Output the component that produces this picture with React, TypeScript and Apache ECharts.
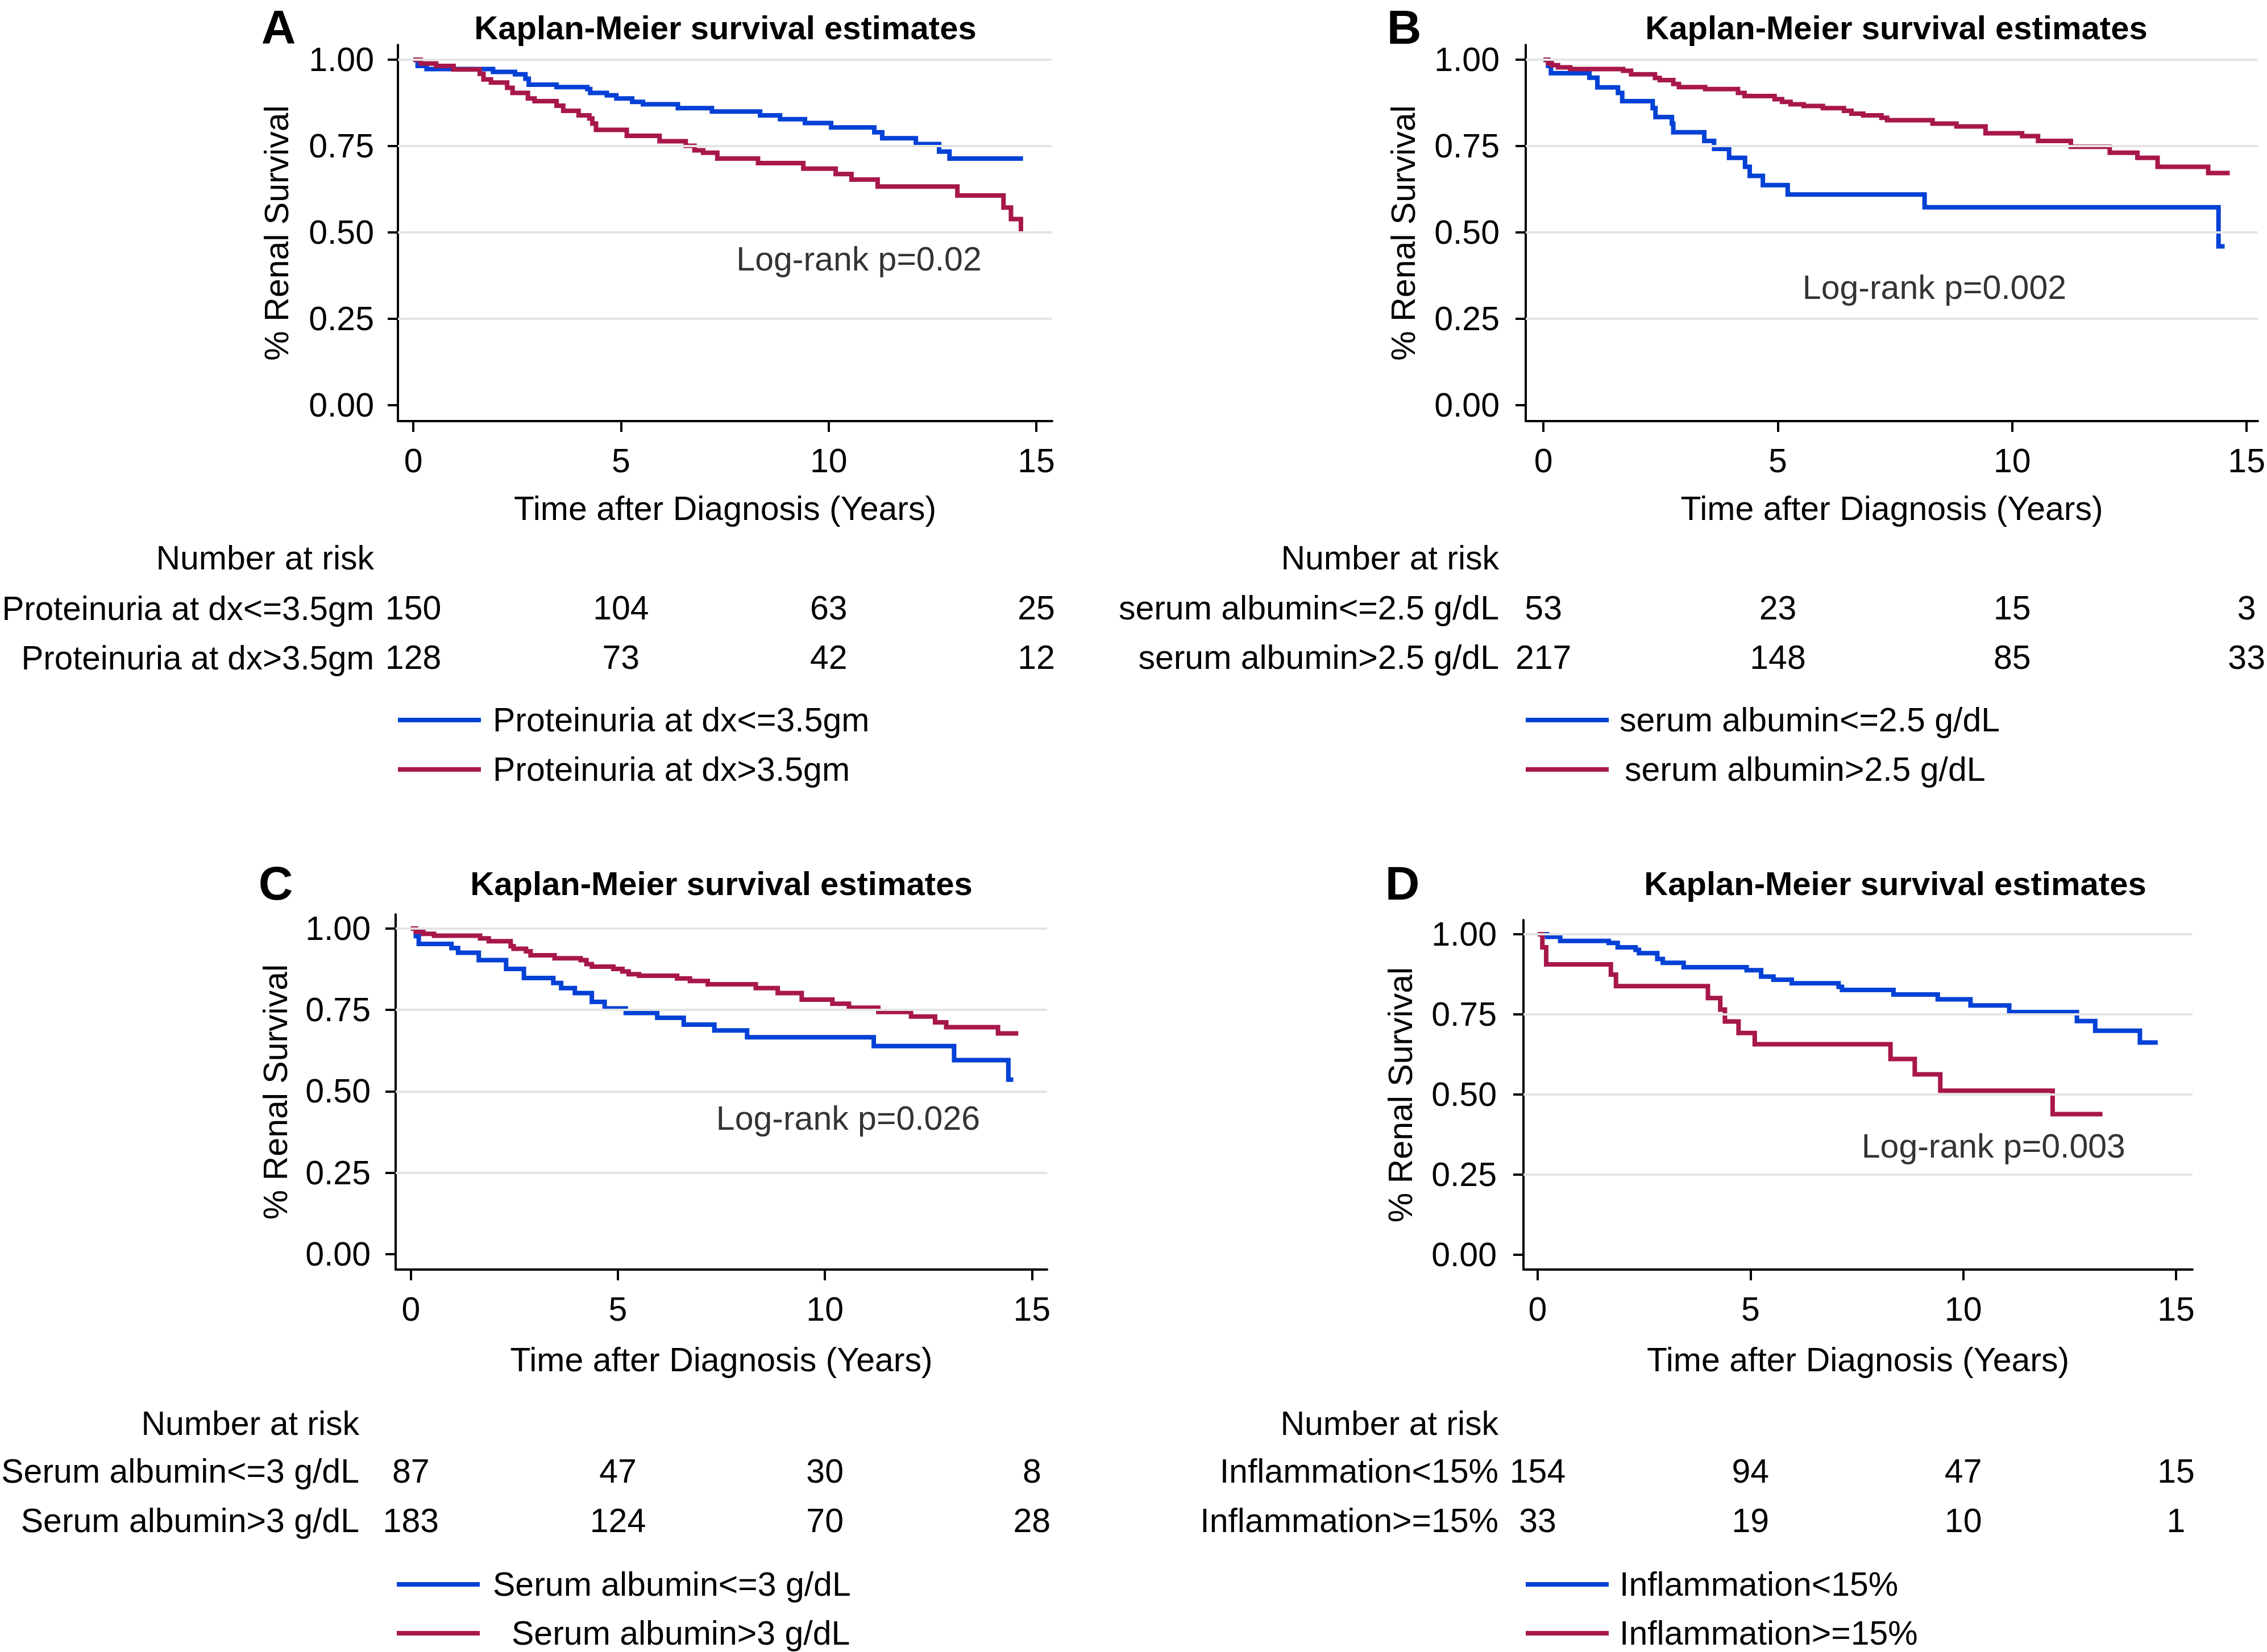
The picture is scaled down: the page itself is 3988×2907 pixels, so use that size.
import React, { useEffect, useRef } from "react";
import * as echarts from "echarts";

const W = 3988;
const H = 2907;
const FONT = "'Liberation Sans', Arial, Helvetica, sans-serif";
const BLUE = "#0341d6";
const RED = "#a8174b";
const GRID_GRAY = "#e4e4e4";
const FS = 59;

// ---------- shared axis values ----------
const xTickValues = [0, 5, 10, 15];
const yTickValues = [0, 0.25, 0.5, 0.75, 1];
const yGridValues = [0.25, 0.5, 0.75, 1];
const chartTitle = "Kaplan-Meier survival estimates";
const xAxisTitle = "Time after Diagnosis (Years)";
const yAxisTitle = "% Renal Survival";
const riskHeader = "Number at risk";

// ---------- Panel A ----------
const aGroups = ["Proteinuria at dx<=3.5gm", "Proteinuria at dx>3.5gm"];
const aRisk1 = [150, 104, 63, 25];
const aRisk2 = [128, 73, 42, 12];
const aLogRank = "Log-rank p=0.02";
const aBlueTime = [0, 0.105, 0.32, 1.92, 2.45, 2.7, 2.78, 3.45, 4.19, 4.26, 4.66, 4.89, 5.27, 5.53, 6.37, 7.19, 8.35, 8.83, 9.43, 10.06, 11.1, 11.29, 12.1, 12.66, 12.91, 14.68];
const aBlueSurv = [1, 0.982, 0.973, 0.965, 0.958, 0.945, 0.928, 0.921, 0.915, 0.904, 0.897, 0.888, 0.878, 0.871, 0.86, 0.85, 0.839, 0.828, 0.817, 0.804, 0.79, 0.773, 0.756, 0.734, 0.714, 0.714];
const aRedTime = [0, 0.18, 0.55, 0.97, 1.6, 1.69, 1.87, 2.26, 2.39, 2.76, 2.92, 3.45, 3.61, 3.98, 4.24, 4.31, 4.4, 5.14, 5.93, 6.56, 6.77, 6.98, 7.32, 8.3, 9.39, 10.17, 10.55, 11.18, 13.1, 14.21, 14.39, 14.63];
const aRedSurv = [1, 0.989, 0.982, 0.972, 0.959, 0.943, 0.934, 0.919, 0.904, 0.888, 0.88, 0.867, 0.852, 0.839, 0.83, 0.815, 0.797, 0.78, 0.764, 0.751, 0.738, 0.731, 0.714, 0.701, 0.685, 0.669, 0.653, 0.633, 0.607, 0.572, 0.539, 0.497];

// ---------- Panel B ----------
const bGroups = ["serum albumin<=2.5 g/dL", "serum albumin>2.5 g/dL"];
const bRisk1 = [53, 23, 15, 3];
const bRisk2 = [217, 148, 85, 33];
const bLogRank = "Log-rank p=0.002";
const bBlueTime = [0, 0.1, 0.16, 0.98, 1.15, 1.59, 1.68, 2.33, 2.39, 2.74, 2.77, 3.43, 3.64, 3.96, 4.3, 4.4, 4.68, 5.21, 8.13, 14.4, 14.53];
const bBlueSurv = [1, 0.982, 0.961, 0.948, 0.92, 0.904, 0.88, 0.86, 0.834, 0.815, 0.79, 0.765, 0.742, 0.716, 0.69, 0.664, 0.637, 0.61, 0.573, 0.46, 0.46];
const bRedTime = [0, 0.1, 0.18, 0.31, 0.57, 1.7, 1.87, 2.38, 2.48, 2.77, 2.89, 3.45, 4.15, 4.29, 4.93, 5.09, 5.27, 5.55, 5.96, 6.41, 6.57, 6.82, 7.21, 7.33, 8.3, 8.81, 9.43, 10.21, 10.55, 11.25, 12.08, 12.67, 13.1, 14.18, 14.64];
const bRedSurv = [1, 0.99, 0.984, 0.978, 0.973, 0.968, 0.958, 0.947, 0.941, 0.93, 0.921, 0.915, 0.904, 0.895, 0.886, 0.878, 0.871, 0.866, 0.86, 0.852, 0.844, 0.839, 0.832, 0.825, 0.815, 0.807, 0.787, 0.779, 0.765, 0.748, 0.731, 0.716, 0.69, 0.672, 0.672];

// ---------- Panel C ----------
const cGroups = ["Serum albumin<=3 g/dL", "Serum albumin>3 g/dL"];
const cRisk1 = [87, 47, 30, 8];
const cRisk2 = [183, 124, 70, 28];
const cLogRank = "Log-rank p=0.026";
const cBlueTime = [0, 0.12, 0.19, 0.98, 1.14, 1.64, 2.3, 2.73, 3.44, 3.63, 3.96, 4.37, 4.68, 5.19, 5.95, 6.59, 7.33, 8.12, 11.18, 13.12, 14.43, 14.55];
const cBlueSurv = [1, 0.977, 0.953, 0.94, 0.926, 0.903, 0.876, 0.848, 0.833, 0.817, 0.802, 0.775, 0.755, 0.741, 0.726, 0.705, 0.687, 0.666, 0.639, 0.596, 0.536, 0.536];
const cRedTime = [0, 0.12, 0.3, 0.56, 1.67, 1.88, 2.41, 2.48, 2.78, 2.89, 3.47, 4.1, 4.24, 4.37, 4.89, 5.11, 5.26, 5.51, 6.43, 6.74, 7.17, 8.33, 8.86, 9.44, 10.18, 10.58, 11.29, 12.08, 12.66, 12.93, 14.18, 14.67];
const cRedSurv = [1, 0.99, 0.984, 0.978, 0.97, 0.961, 0.946, 0.938, 0.93, 0.918, 0.909, 0.903, 0.891, 0.883, 0.876, 0.868, 0.86, 0.855, 0.847, 0.839, 0.829, 0.817, 0.802, 0.782, 0.769, 0.757, 0.744, 0.73, 0.712, 0.697, 0.678, 0.678];

// ---------- Panel D ----------
const dGroups = ["Inflammation<15%", "Inflammation>=15%"];
const dRisk1 = [154, 94, 47, 15];
const dRisk2 = [33, 19, 10, 1];
const dLogRank = "Log-rank p=0.003";
const dBlueTime = [0, 0.22, 0.53, 1.67, 1.88, 2.3, 2.38, 2.81, 2.94, 3.43, 4.91, 5.25, 5.54, 5.97, 7.07, 7.15, 8.36, 9.4, 10.17, 11.08, 12.67, 13.1, 14.15, 14.57];
const dBlueSurv = [1, 0.992, 0.979, 0.973, 0.959, 0.951, 0.941, 0.923, 0.911, 0.897, 0.888, 0.868, 0.858, 0.847, 0.836, 0.826, 0.812, 0.797, 0.778, 0.757, 0.729, 0.699, 0.662, 0.662];
const dRedTime = [0, 0.11, 0.2, 1.72, 1.84, 4.0, 4.29, 4.4, 4.72, 5.1, 8.29, 8.86, 9.46, 12.1, 13.27];
const dRedSurv = [1, 0.959, 0.906, 0.874, 0.838, 0.801, 0.765, 0.728, 0.692, 0.657, 0.611, 0.563, 0.512, 0.439, 0.439];

// ---------- layout (pixels, fonts) ----------
const layouts = [
  {
    letter: "A", left: 700, top: 79, width: 1151, height: 662,
    xMin: -0.37, xMax: 15.383, yMin: -0.046, yMax: 1.043,
    letterX: 490, letterY: 48, titleX: 1276, titleY: 48,
    yNameGap: 213, yLabelMargin: 42, xNameGap: 154, xLabelMargin: 70,
    riskHeaderY: 982, riskRight: 658, rowFont: 58.3, rowOffsets: [329, 416],
    legendX: 700, legendTextX: [867, 867], legendY: [1267, 1354],
    logRankAt: [10.73, 0.423],
  },
  {
    letter: "B", left: 2684, top: 79, width: 1302, height: 662,
    xMin: -0.378, xMax: 15.24, yMin: -0.046, yMax: 1.043,
    letterX: 2470, letterY: 48, titleX: 3336, titleY: 48,
    yNameGap: 215, yLabelMargin: 46, xNameGap: 154, xLabelMargin: 70,
    riskHeaderY: 982, riskRight: 2637, rowFont: FS, rowOffsets: [329, 416],
    legendX: 2684, legendTextX: [2849, 2858], legendY: [1267, 1354],
    logRankAt: [8.34, 0.34],
  },
  {
    letter: "C", left: 696, top: 1609, width: 1146, height: 625,
    xMin: -0.368, xMax: 15.366, yMin: -0.0471, yMax: 1.0436,
    letterX: 485, letterY: 1554, titleX: 1269, titleY: 1554,
    yNameGap: 211, yLabelMargin: 44, xNameGap: 159, xLabelMargin: 70,
    riskHeaderY: 2505, riskRight: 632, rowFont: FS, rowOffsets: [355, 442],
    legendX: 698, legendTextX: [867, 900], legendY: [2788, 2874],
    logRankAt: [10.56, 0.417],
  },
  {
    letter: "D", left: 2680, top: 1619, width: 1177, height: 615,
    xMin: -0.334, xMax: 15.387, yMin: -0.0461, yMax: 1.0443,
    letterX: 2467, letterY: 1554, titleX: 3334, titleY: 1554,
    yNameGap: 216, yLabelMargin: 47, xNameGap: 159, xLabelMargin: 70,
    riskHeaderY: 2505, riskRight: 2636, rowFont: FS, rowOffsets: [355, 442],
    legendX: 2684, legendTextX: [2849, 2849], legendY: [2788, 2874],
    logRankAt: [10.71, 0.339],
  },
];

const panels = [
  { groups: aGroups, risks: [aRisk1, aRisk2], logRank: aLogRank, blue: [aBlueTime, aBlueSurv], red: [aRedTime, aRedSurv] },
  { groups: bGroups, risks: [bRisk1, bRisk2], logRank: bLogRank, blue: [bBlueTime, bBlueSurv], red: [bRedTime, bRedSurv] },
  { groups: cGroups, risks: [cRisk1, cRisk2], logRank: cLogRank, blue: [cBlueTime, cBlueSurv], red: [cRedTime, cRedSurv] },
  { groups: dGroups, risks: [dRisk1, dRisk2], logRank: dLogRank, blue: [dBlueTime, dBlueSurv], red: [dRedTime, dRedSurv] },
];

const zip = (t: number[], s: number[]) => t.map((v, i) => [v, s[i]]);

function textEl(text: string, x: number, y: number, align: string, size: number, bold = false, lineHeight?: number) {
  return {
    type: "text",
    x,
    y,
    silent: true,
    style: {
      text,
      font: `${bold ? "bold " : ""}${size}px ${FONT}`,
      fill: "#000",
      align,
      verticalAlign: "middle",
      textAlign: align,
      textVerticalAlign: "middle",
      lineHeight: lineHeight ?? Math.round(size * 1.15),
    },
  };
}

function buildOption() {
  const grid: any[] = [];
  const xAxis: any[] = [];
  const yAxis: any[] = [];
  const series: any[] = [];
  const graphic: any[] = [];
  const colors = [BLUE, RED];

  panels.forEach((p, i) => {
    const L = layouts[i];
    grid.push({ left: L.left, top: L.top, width: L.width, height: L.height, containLabel: false });

    const mainX = xAxis.length;
    xAxis.push({
      type: "value",
      gridIndex: i,
      min: L.xMin,
      max: L.xMax,
      position: "bottom",
      axisLine: { show: true, onZero: false, lineStyle: { color: "#000", width: 4 } },
      axisTick: { show: true, customValues: xTickValues, length: 19, lineStyle: { color: "#000", width: 4 } },
      axisLabel: {
        show: true, customValues: xTickValues, margin: L.xLabelMargin, verticalAlign: "middle",
        fontSize: FS, fontFamily: FONT, color: "#000",
        formatter: (v: number) => String(Math.round(v)),
      },
      splitLine: { show: false },
      name: xAxisTitle,
      nameLocation: "middle",
      nameGap: L.xNameGap,
      nameTextStyle: { fontSize: FS, fontFamily: FONT, color: "#000", verticalAlign: "middle" },
    });

    p.risks.forEach((r, k) => {
      xAxis.push({
        type: "value",
        gridIndex: i,
        min: L.xMin,
        max: L.xMax,
        position: "bottom",
        offset: L.rowOffsets[k],
        axisLine: { show: false, onZero: false },
        axisTick: { show: false },
        splitLine: { show: false },
        axisLabel: {
          show: true, customValues: xTickValues, margin: 0, verticalAlign: "middle",
          fontSize: FS, fontFamily: FONT, color: "#000",
          formatter: (v: number) => {
            const idx = xTickValues.findIndex((t) => Math.abs(t - v) < 1e-6);
            return idx >= 0 ? String(r[idx]) : "";
          },
        },
      });
    });

    yAxis.push({
      type: "value",
      gridIndex: i,
      min: L.yMin,
      max: L.yMax,
      position: "left",
      axisLine: { show: true, onZero: false, lineStyle: { color: "#000", width: 4 } },
      axisTick: { show: true, customValues: yTickValues, length: 18, lineStyle: { color: "#000", width: 4 } },
      axisLabel: {
        show: true, customValues: yTickValues, margin: L.yLabelMargin,
        fontSize: FS, fontFamily: FONT, color: "#000",
        formatter: (v: number) => v.toFixed(2),
      },
      splitLine: { show: false },
      name: yAxisTitle,
      nameLocation: "middle",
      nameGap: L.yNameGap,
      nameRotate: 90,
      nameTextStyle: { fontSize: FS, fontFamily: FONT, color: "#000", verticalAlign: "middle" },
    });

    // gridlines
    series.push({
      type: "line",
      xAxisIndex: mainX,
      yAxisIndex: i,
      data: [[0, 1]],
      showSymbol: false,
      symbol: "none",
      lineStyle: { opacity: 0 },
      silent: true,
      z: 1,
      markLine: {
        silent: true,
        symbol: ["none", "none"],
        label: { show: false },
        lineStyle: { color: GRID_GRAY, width: 4, type: "solid" },
        data: yGridValues.map((v) => ({ yAxis: v })),
      },
    });

    [p.blue, p.red].forEach((curve, k) => {
      series.push({
        type: "line",
        name: p.groups[k],
        xAxisIndex: mainX,
        yAxisIndex: i,
        step: "end",
        data: zip(curve[0], curve[1]),
        symbol: "none",
        showSymbol: false,
        lineStyle: { color: colors[k], width: 8, cap: "butt", join: "miter" },
        z: 3 + k,
        silent: true,
      });
    });

    series.push({
      type: "scatter",
      xAxisIndex: mainX,
      yAxisIndex: i,
      data: [L.logRankAt],
      symbolSize: 0.01,
      itemStyle: { color: "#ffffff" },
      silent: true,
      z: 6,
      label: {
        show: true, position: "inside", formatter: p.logRank,
        fontSize: FS, fontFamily: FONT, color: "#000000",
        textBorderWidth: 0,
      },
    });

    // letters and titles
    graphic.push(textEl(L.letter, L.letterX, L.letterY, "center", 84, true, 66));
    graphic.push(textEl(chartTitle, L.titleX, L.titleY, "center", 58, true, 60));

    // number at risk labels
    const axisY = L.top + L.height;
    graphic.push(textEl(riskHeader, L.riskRight, L.riskHeaderY, "right", FS));
    p.groups.forEach((g, k) => {
      graphic.push(textEl(g, L.riskRight, axisY + L.rowOffsets[k], "right", L.rowFont));
    });

    // legend
    p.groups.forEach((g, k) => {
      graphic.push({
        type: "rect",
        silent: true,
        shape: { x: L.legendX, y: L.legendY[k] - 4, width: 146, height: 8 },
        style: { fill: colors[k] },
      });
      graphic.push(textEl(g, L.legendTextX[k], L.legendY[k], "left", FS));
    });
  });

  return {
    animation: false,
    backgroundColor: "#ffffff",
    grid,
    xAxis,
    yAxis,
    series,
    graphic,
  };
}

export default function App() {
  const ref = useRef<HTMLDivElement | null>(null);
  useEffect(() => {
    if (!ref.current) return;
    const chart = echarts.init(ref.current, undefined, { renderer: "svg", width: W, height: H });
    chart.setOption(buildOption() as any);
    return () => chart.dispose();
  }, []);
  return (
    <div
      ref={ref}
      style={{ position: "fixed", left: 0, top: 0, width: W, height: H, background: "#fff" }}
    />
  );
}
